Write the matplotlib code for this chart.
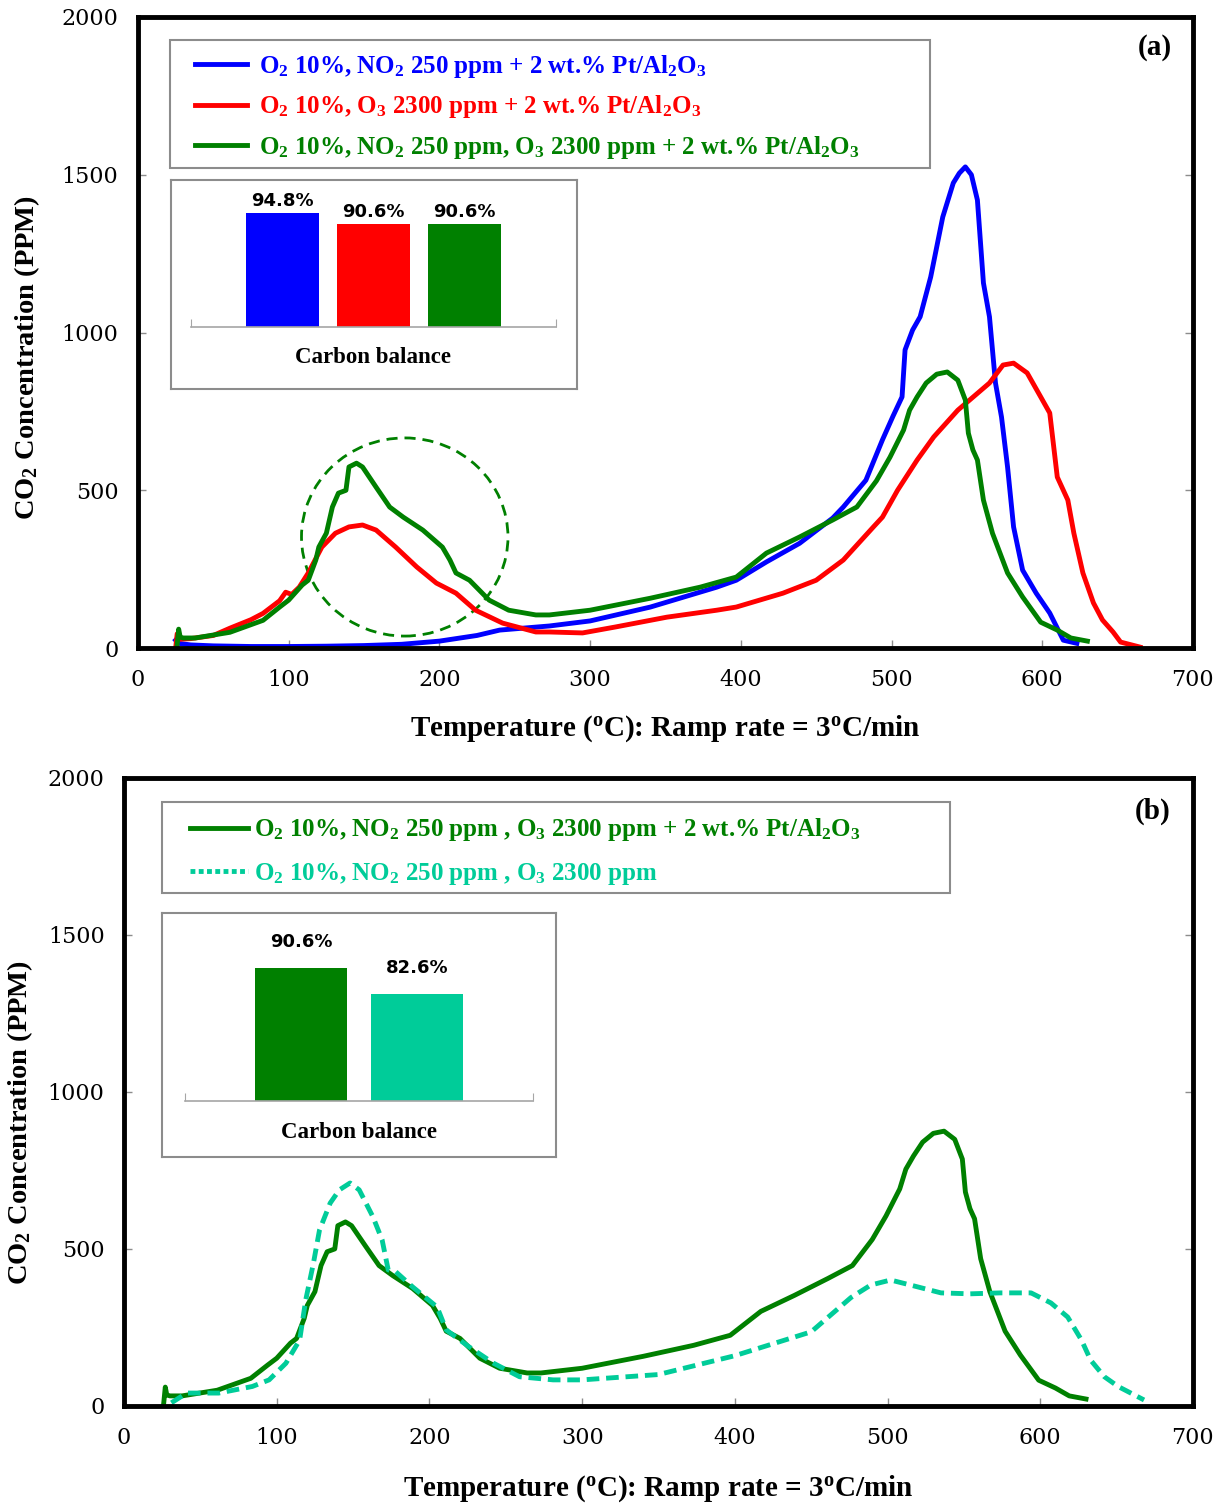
import numpy as np
import matplotlib
matplotlib.use('Agg')
import matplotlib.pyplot as plt
from matplotlib.lines import Line2D
from matplotlib.patches import Ellipse, Rectangle

# ── Fonts ─────────────────────────────────────────────────────
plt.rcParams['font.family'] = ['Liberation Serif', 'DejaVu Serif']
plt.rcParams['mathtext.fontset'] = 'custom'
plt.rcParams['mathtext.rm'] = 'Liberation Serif:bold'
plt.rcParams['mathtext.bf'] = 'Liberation Serif:bold'
plt.rcParams['mathtext.it'] = 'Liberation Serif:bold:italic'

# ── Data ──────────────────────────────────────────────────────
# (a) NO2 + Pt/Al2O3
t_blue = [25, 27, 35, 50, 75, 100, 125, 150, 175, 200, 225, 240, 273, 300, 340, 384, 397,
          417, 439, 461, 468, 483, 494, 501, 507, 509, 514, 519, 526, 534, 541, 545, 549,
          553, 557, 561, 565, 569, 573, 577, 581, 587, 596, 605, 614, 623]
y_blue = [25, 15, 10, 7, 5, 5, 6, 8, 12, 22, 40, 57, 70, 86, 130, 193, 215,
          273, 332, 412, 447, 532, 660, 735, 796, 945, 1008, 1050, 1176, 1366, 1474, 1505, 1525,
          1500, 1420, 1157, 1050, 840, 732, 574, 384, 247, 174, 111, 25, 15]

# (a) O3 + Pt/Al2O3
t_red = [25, 26, 28, 35, 50, 61, 75, 83, 94, 98, 102, 107, 113, 122, 131, 140, 149, 158,
         171, 185, 198, 211, 224, 242, 264, 273, 295, 317, 351, 384, 397, 428, 450, 468,
         488, 494, 504, 517, 528, 544, 565, 574, 581, 590, 599, 605, 610, 617, 621, 627,
         634, 640, 647, 652, 665]
y_red = [0, 45, 28, 30, 40, 63, 90, 110, 150, 177, 170, 193, 238, 320, 364, 384, 390, 374,
         320, 257, 206, 174, 120, 79, 51, 51, 48, 67, 98, 120, 130, 174, 215, 279,
         384, 415, 500, 596, 669, 754, 840, 897, 903, 872, 796, 745, 542, 469, 364, 238,
         143, 89, 51, 19, 3]

# (a)/(b) NO2 + O3 + Pt/Al2O3
t_green = [26, 27, 28, 30, 38, 61, 83, 94, 100, 109, 113, 118, 120, 125, 129, 133, 138, 140,
           145, 149, 158, 167, 176, 189, 202, 207, 211, 220, 233, 246, 264, 273, 300, 340,
           373, 397, 417, 439, 461, 477, 490, 499, 508, 512, 517, 523, 530, 537, 544, 549,
           551, 554, 557, 561, 567, 577, 587, 599, 610, 619, 630]
y_green = [10, 60, 35, 32, 32, 50, 88, 130, 152, 200, 215, 279, 320, 364, 447, 491, 500, 574,
           586, 574, 510, 447, 415, 374, 320, 279, 238, 215, 152, 120, 105, 105, 120, 158,
           193, 225, 301, 352, 406, 447, 530, 605, 691, 754, 796, 840, 868, 875, 849, 786,
           681, 628, 596, 469, 364, 238, 162, 82, 57, 32, 22]

# (b) NO2 + O3 without catalyst
t_teal = [31, 41, 62, 84, 95, 106, 115, 119, 124, 128, 135, 141, 148, 154, 163, 169, 173,
          178, 189, 205, 211, 226, 242, 259, 281, 300, 350, 400, 450, 476, 489, 502, 515,
          535, 554, 574, 594, 607, 618, 627, 633, 642, 651, 668]
y_teal = [10, 41, 41, 62, 83, 136, 210, 338, 454, 560, 646, 688, 710, 688, 602, 529, 433,
          427, 379, 315, 242, 188, 136, 93, 83, 83, 100, 160, 236, 345, 385, 401, 385,
          360, 357, 360, 360, 328, 283, 210, 146, 93, 62, 19]

# carbon balance insets
cb_a = [94.8, 90.6, 90.6]
cb_b = [90.6, 82.6]

lab_a = [r'O$_2$ 10%, NO$_2$ 250 ppm + 2 wt.% Pt/Al$_2$O$_3$',
         r'O$_2$ 10%, O$_3$ 2300 ppm + 2 wt.% Pt/Al$_2$O$_3$',
         r'O$_2$ 10%, NO$_2$ 250 ppm, O$_3$ 2300 ppm + 2 wt.% Pt/Al$_2$O$_3$']
lab_b = [r'O$_2$ 10%, NO$_2$ 250 ppm , O$_3$ 2300 ppm + 2 wt.% Pt/Al$_2$O$_3$',
         r'O$_2$ 10%, NO$_2$ 250 ppm , O$_3$ 2300 ppm']

BLUE, RED, GREEN, TEAL = '#0000FF', '#FF0000', '#008000', '#00CC99'
GRAY = '#8C8C8C'
XLABEL = r'Temperature ($^\mathrm{o}$C): Ramp rate = 3$^\mathrm{o}$C/min'
YLABEL = r'CO$_2$ Concentration (PPM)'

# ── Figure ────────────────────────────────────────────────────
fig = plt.figure(figsize=(12.21, 15.04), dpi=100)
ax_a = fig.add_axes([0.113, 0.5691, 0.864, 0.4196])
ax_b = fig.add_axes([0.1016, 0.0652, 0.8754, 0.4176])


def style_main(ax, xlab_y, ylab_x, ylab_y):
    ax.set_xlim(0, 700)
    ax.set_ylim(0, 2000)
    ax.set_xticks(range(0, 701, 100))
    ax.set_yticks(range(0, 2001, 500))
    for s in ax.spines.values():
        s.set_linewidth(3.5)
    ax.tick_params(direction='in', length=6, width=1, color=GRAY,
                   labelsize=16, pad=14, right=True, labelfontfamily='DejaVu Serif')
    ax.tick_params(axis='x', pad=15)
    ax.set_xlabel(XLABEL, fontsize=21, fontweight='bold', va='center')
    ax.xaxis.set_label_coords(0.5, xlab_y)
    ax.set_ylabel(YLABEL, fontsize=20.5, fontweight='bold', va='center')
    ax.yaxis.set_label_coords(ylab_x, ylab_y)


def legend_box(ax, handles, labels, colors, frame, anchor, hlen, hpad, lspace):
    ax.add_patch(Rectangle(frame[:2], frame[2], frame[3], transform=ax.transAxes,
                           facecolor='white', edgecolor=GRAY, lw=1.5, zorder=4))
    ax.legend(handles, labels, loc='upper left', bbox_to_anchor=anchor, frameon=False,
              borderaxespad=0, borderpad=0, prop={'weight': 'bold', 'size': 18},
              labelcolor=colors, handlelength=hlen, handletextpad=hpad, labelspacing=lspace)


def carbon_inset(box, bars_pos, values, colors, label_pad, xlim, xlab_pad):
    frame = fig.add_axes(box)
    frame.set_xticks([])
    frame.set_yticks([])
    for s in frame.spines.values():
        s.set_color(GRAY)
        s.set_linewidth(1.5)
    ax = fig.add_axes(bars_pos)
    ax.patch.set_alpha(0)
    x = np.arange(len(values))
    bars = ax.bar(x, values, width=0.8, color=colors)
    ax.bar_label(bars, labels=[f'{v}%' for v in values], padding=label_pad,
                 fontsize=13, fontweight='bold', family='DejaVu Sans')
    ax.set_xlim(*xlim)
    ax.set_ylim(50, 100)
    for k in ['top', 'left', 'right']:
        ax.spines[k].set_visible(False)
    ax.spines['bottom'].set_color('#A6A6A6')
    ax.spines['bottom'].set_linewidth(1.2)
    ax.set_yticks([])
    ax.set_xticks(list(xlim))
    ax.set_xticklabels(['', ''])
    ax.tick_params(axis='x', direction='in', length=6, color='#A6A6A6')
    ax.set_xlabel('Carbon balance', fontsize=16.5, fontweight='bold', labelpad=xlab_pad)
    return ax


# ── (a) ───────────────────────────────────────────────────────
ax_a.plot(t_blue, y_blue, color=BLUE, lw=3.5)
ax_a.plot(t_red, y_red, color=RED, lw=3.5)
ax_a.plot(t_green, y_green, color=GREEN, lw=3.5)
ax_a.add_patch(Ellipse((177, 352), 137, 628, fill=False, edgecolor=GREEN,
                       lw=2, linestyle=(0, (4, 2.5))))
style_main(ax_a, -0.127, -0.105, 0.46)
ax_a.text(0.964, 0.951, '(a)', transform=ax_a.transAxes, ha='center', va='center',
          fontsize=21, fontweight='bold')

h_a = [Line2D([], [], color=c, lw=3.5) for c in [BLUE, RED, GREEN]]
legend_box(ax_a, h_a, lab_a, [BLUE, RED, GREEN],
           (0.0303, 0.7607, 0.7204, 0.2028), (0.054, 0.9437), 2.1, 0.48, 0.55)

carbon_inset([0.1400, 0.7414, 0.3325, 0.1390], [0.1564, 0.7826, 0.2989, 0.0844],
             cb_a, [BLUE, RED, GREEN], 2, (-1, 3), 11)

# ── (b) ───────────────────────────────────────────────────────
ax_b.plot(t_green, y_green, color=GREEN, lw=3.5)
ax_b.plot(t_teal, y_teal, color=TEAL, lw=3.5, linestyle=(0, (2.6, 1.4)))
style_main(ax_b, -0.131, -0.097, 0.452)
ax_b.text(0.9626, 0.946, '(b)', transform=ax_b.transAxes, ha='center', va='center',
          fontsize=21, fontweight='bold')

h_b = [Line2D([], [], color=GREEN, lw=3.5),
       Line2D([], [], color=TEAL, lw=3.5, linestyle=(0, (1, 0.7)))]
legend_box(ax_b, h_b, lab_b, [GREEN, TEAL],
           (0.0355, 0.8169, 0.7372, 0.1449), (0.0617, 0.9387), 2.32, 0.24, 0.7)

carbon_inset([0.1327, 0.2307, 0.3227, 0.1622], [0.1515, 0.2680, 0.2850, 0.1090],
             cb_b, [GREEN, TEAL], 12, (-1, 2), 12)

plt.savefig('out.png', dpi=100)
